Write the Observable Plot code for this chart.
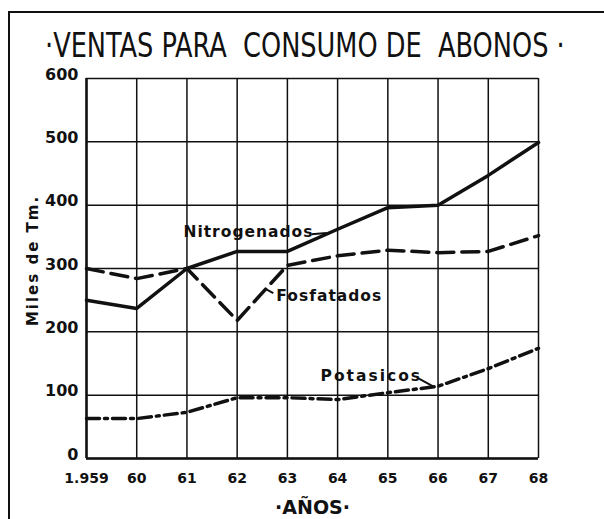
<!DOCTYPE html>
<html>
<head>
<meta charset="utf-8">
<script src="https://cdn.jsdelivr.net/npm/d3@7"></script>
<script src="https://cdn.jsdelivr.net/npm/@observablehq/plot@0.6"></script>
<style>
  html, body { margin: 0; padding: 0; background: #fff; }
  #wrap { position: relative; width: 604px; height: 519px; overflow: hidden; background: #fff; }
  #frameTop { position: absolute; left: 8px; top: 11px; width: 596px; height: 2px; background: #111; }
  #frameLeft { position: absolute; left: 8px; top: 11px; width: 2px; height: 508px; background: #111; }
  #title { position: absolute; left: 0; top: 0; }
  #chart { position: absolute; left: 0; top: 60px; }
</style>
</head>
<body>
<div id="wrap">
  <div id="frameTop"></div>
  <div id="frameLeft"></div>
  <div id="chart"></div>
  <svg id="title" width="604" height="76">
    <text id="titleText" x="0" y="0" font-family="'DejaVu Sans Condensed', 'DejaVu Sans', sans-serif" font-size="26" fill="#111" style="white-space: pre"></text>
  </svg>
</div>
<script>
const titleString = "·VENTAS PARA  CONSUMO DE  ABONOS ·";
const years = [1959, 1960, 1961, 1962, 1963, 1964, 1965, 1966, 1967, 1968];
const yearLabels = ["1.959", "60", "61", "62", "63", "64", "65", "66", "67", "68"];
const yTicks = [0, 100, 200, 300, 400, 500, 600];
const nitrogenados = [250, 237, 300, 327, 327, 362, 396, 400, 447, 499];
const fosfatados = [300, 284, 300, 218, 305, 320, 329, 325, 327, 352];
const potasicos = [63, 63, 73, 96, 96, 93, 104, 114, 142, 174];
const seriesNames = ["Nitrogenados", "Fosfatados", "Potasicos"];
const labelX = [1960.93, 1962.78, 1963.66];
const labelY = [358, 256, 131];
const leaderX1 = [1963.48, 1962.72, 1965.62];
const leaderY1 = [354, 261, 126];
const leaderX2 = [1963.78, 1962.58, 1965.9];
const leaderY2 = [356, 267, 114];
const yTitle = "Miles de Tm.";
const xTitle = "·AÑOS·";

// title, stretched to the reference's lettering width
const tt = document.getElementById("titleText");
tt.textContent = titleString;
const tw = tt.getComputedTextLength();
tt.setAttribute("transform", `translate(45,57) scale(${520 / tw},1.3)`);

const rows = [];
const seriesVals = [nitrogenados, fosfatados, potasicos];
seriesNames.forEach((s, k) => years.forEach((y, i) => rows.push({series: s, year: y, value: seriesVals[k][i]})));
const byS = s => rows.filter(r => r.series === s);
const labels = seriesNames.map((s, i) => ({name: s, x: labelX[i], y: labelY[i]}));
const leaders = seriesNames.map((s, i) => ({x1: leaderX1[i], y1: leaderY1[i], x2: leaderX2[i], y2: leaderY2[i]}));

const plot = Plot.plot({
  width: 604,
  height: 459,
  marginLeft: 86,
  marginRight: 66,
  marginTop: 18,
  marginBottom: 61,
  style: {fontFamily: "'DejaVu Sans', sans-serif", background: "transparent", color: "#111"},
  x: {domain: [1959, 1968]},
  y: {domain: [0, 600]},
  marks: [
    Plot.gridX(years, {stroke: "#111", strokeOpacity: 1, strokeWidth: 1.5}),
    Plot.gridY(yTicks, {stroke: "#111", strokeOpacity: 1, strokeWidth: 1.5}),
    Plot.ruleX([1959], {stroke: "#111", strokeWidth: 2.5}),
    Plot.ruleY([0], {stroke: "#111", strokeWidth: 2.5}),
    Plot.axisY(yTicks, {tickSize: 0, tickPadding: 8, dy: -4, fontSize: 16, fontWeight: "bold", label: null}),
    Plot.axisX(years, {tickSize: 0, tickPadding: 15, fontSize: 14, fontWeight: "bold", label: null,
      tickFormat: (d) => yearLabels[years.indexOf(d)]}),
    Plot.text([yTitle], {frameAnchor: "left", textAnchor: "middle", rotate: -90, dx: -53, dy: -8, fontSize: 15, fontWeight: "bold"}),
    Plot.text([xTitle], {frameAnchor: "bottom", dy: 49, fontSize: 19, fontWeight: "bold", lineAnchor: "middle"}),
    Plot.line(byS("Nitrogenados"), {x: "year", y: "value", stroke: "#111", strokeWidth: 3.5, strokeLinejoin: "round"}),
    Plot.line(byS("Fosfatados"), {x: "year", y: "value", stroke: "#111", strokeWidth: 3.5, strokeDasharray: "17,8"}),
    Plot.line(byS("Potasicos"), {x: "year", y: "value", stroke: "#111", strokeWidth: 3.5, strokeDasharray: "13,5,3,5"}),
    Plot.link(leaders, {x1: "x1", y1: "y1", x2: "x2", y2: "y2", stroke: "#111", strokeWidth: 2}),
    Plot.text(labels, {x: "x", y: "y", text: "name", textAnchor: "start", fontSize: 15.5, fontWeight: "bold", fill: "#111"})
  ]
});
const spacing = {"Nitrogenados": "1px", "Fosfatados": "1px", "Potasicos": "2px"};
d3.select(plot).selectAll("text").filter(function() { return seriesNames.includes(this.textContent); })
  .each(function() { d3.select(this).style("letter-spacing", spacing[this.textContent]); });
d3.select(plot).selectAll("text").filter(function() { return this.textContent === yTitle; })
  .style("letter-spacing", "2px");
document.getElementById("chart").appendChild(plot);
</script>
</body>
</html>
